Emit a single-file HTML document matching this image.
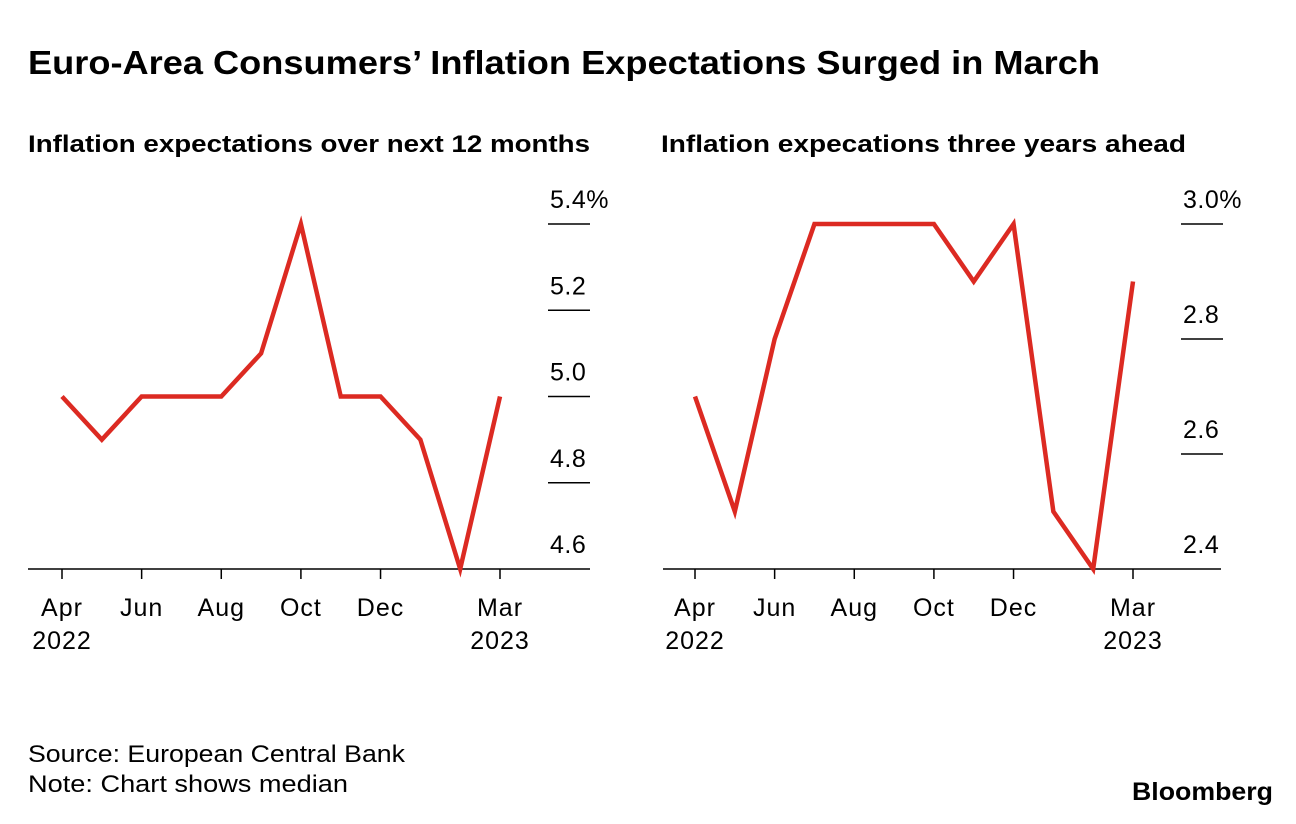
<!DOCTYPE html>
<html><head><meta charset="utf-8">
<style>
body{margin:0;width:1296px;height:824px;background:#fff;font-family:"Liberation Sans",sans-serif;color:#000;overflow:hidden}
svg{position:absolute;left:0;top:0}
</style></head>
<body>
<svg width="1296" height="824">
<text x="28" y="74" font-size="33" font-weight="bold" textLength="1072" lengthAdjust="spacingAndGlyphs">Euro-Area Consumers’ Inflation Expectations Surged in March</text>
<text x="28" y="152" font-size="24" font-weight="bold" textLength="562" lengthAdjust="spacingAndGlyphs">Inflation expectations over next 12 months</text>
<text x="661" y="152" font-size="24" font-weight="bold" textLength="525" lengthAdjust="spacingAndGlyphs">Inflation expecations three years ahead</text>
<g id="left"></g>
<g id="right"></g>
<text x="28" y="762" font-size="24" textLength="377" lengthAdjust="spacingAndGlyphs">Source: European Central Bank</text>
<text x="28" y="792" font-size="24" textLength="320" lengthAdjust="spacingAndGlyphs">Note: Chart shows median</text>
<text x="1132" y="800" font-size="25" font-weight="bold" textLength="141" lengthAdjust="spacingAndGlyphs">Bloomberg</text>
</svg>
<script>
const months = ["Apr","May","Jun","Jul","Aug","Sep","Oct","Nov","Dec","Jan","Feb","Mar"];
const xLabels = [["Apr","2022"],null,["Jun"],null,["Aug"],null,["Oct"],null,["Dec"],null,null,["Mar","2023"]];
const leftValues = [5.0,4.9,5.0,5.0,5.0,5.1,5.4,5.0,5.0,4.9,4.6,5.0];
const leftTicks = [4.6,4.8,5.0,5.2,5.4];
const rightValues = [2.7,2.5,2.8,3.0,3.0,3.0,3.0,2.9,3.0,2.5,2.4,2.9];
const rightTicks = [2.4,2.6,2.8,3.0];
const NS="http://www.w3.org/2000/svg";
function mk(tag,attrs,parent,text){const e=document.createElementNS(NS,tag);for(const k in attrs)e.setAttribute(k,attrs[k]);if(text!=null)e.textContent=text;parent.appendChild(e);return e;}
function panel(g,cfg,vals,ticks){
  const x=i=>cfg.x0+i*(cfg.x1-cfg.x0)/(months.length-1);
  const y=v=>569-(v-cfg.ymin)/(cfg.ymax-cfg.ymin)*(569-224);
  const ax=mk("line",{x1:cfg.ax0,x2:cfg.ax1,y1:569,y2:569,stroke:"#000","stroke-width":1.5},g);
  
  
  ticks.forEach((t,i)=>{
    const yy=y(t);
    if(i>0){const l=mk("line",{x1:cfg.tx,x2:cfg.tx+42,y1:yy,y2:yy,stroke:"#000","stroke-width":1.5},g);
    
    }
    const s=t.toFixed(1)+(i===ticks.length-1?"%":"");
    const tx=mk("text",{x:cfg.tx+2,y:yy-16,"font-size":25,"letter-spacing":"0.5"},g,s);
    
    
  });
  xLabels.forEach((lab,i)=>{
    if(!lab)return;
    const t=mk("line",{x1:x(i),x2:x(i),y1:569,y2:579,stroke:"#000","stroke-width":1.5},g);
    
    
    lab.forEach((s,j)=>{const tt=mk("text",{x:x(i),y:616+j*33,"font-size":25,"letter-spacing":"1","text-anchor":"middle"},g,s);
    
    });
  });
  const p=mk("polyline",{points:vals.map((v,i)=>x(i)+","+y(v)).join(" "),fill:"none",stroke:"#dc2a22","stroke-width":4.5,"stroke-linejoin":"miter"},g);
  
  
}
panel(document.getElementById("left"),{x0:62,x1:500,ax0:28,ax1:590,tx:548,ymin:4.6,ymax:5.4},leftValues,leftTicks);
panel(document.getElementById("right"),{x0:695,x1:1133,ax0:663,ax1:1221,tx:1181,ymin:2.4,ymax:3.0},rightValues,rightTicks);
</script>
</body></html>
